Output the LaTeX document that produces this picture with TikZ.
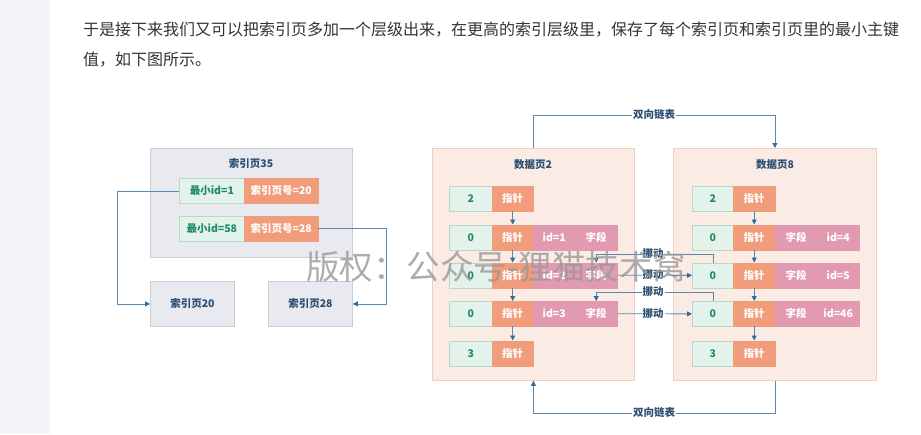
\documentclass[tikz,border=0pt]{standalone}
\usepackage{fontspec}
\setmainfont{Noto Sans CJK SC}
\usetikzlibrary{arrows.meta}
\definecolor{stripgray}{HTML}{F4F5F9}
\definecolor{bodytext}{HTML}{333333}
\definecolor{idxfill}{HTML}{E8EAEF}
\definecolor{idxline}{HTML}{C8CDD8}
\definecolor{titleblue}{HTML}{2C4E70}
\definecolor{gfill}{HTML}{E3F2EA}
\definecolor{gline}{HTML}{B7DAC6}
\definecolor{gtext}{HTML}{1E8C66}
\definecolor{ofill}{HTML}{F19C7B}
\definecolor{pfill}{HTML}{E19AAF}
\definecolor{pagefill}{HTML}{FBEBE5}
\definecolor{pageline}{HTML}{F5CDBD}
\definecolor{connline}{HTML}{5A87AD}
\definecolor{tipblue}{HTML}{2F6EA3}
\tikzset{
  lbl/.style={font=\fontsize{10.5}{10.5}\selectfont\bfseries},
  cellbase/.style={anchor=north west, minimum height=25pt, inner sep=0pt, lbl},
  gcell/.style={cellbase, fill=gfill, draw=gline, line width=0.8pt, text=gtext},
  ocell/.style={cellbase, fill=ofill, draw=ofill, line width=0.4pt, text=white},
  pcell/.style={cellbase, fill=pfill, draw=pfill, line width=0.4pt, text=white},
  idxbox/.style={anchor=north west, fill=idxfill, draw=idxline, line width=0.8pt, inner sep=0pt},
  pagebox/.style={anchor=north west, fill=pagefill, draw=pageline, line width=0.8pt, inner sep=0pt},
  ttl/.style={lbl, text=titleblue},
  conn/.style={draw=connline, line width=0.8pt, -{Triangle[length=5pt,width=5pt,color=tipblue]}},
  mvlab/.style={lbl, text=titleblue, fill=white, inner sep=1pt},
}
\begin{document}
\begin{tikzpicture}[x=1pt,y=-1pt]
\useasboundingbox (0,0) rectangle (921,434);
\fill[white] (0,0) rectangle (921,434);
\fill[stripgray] (0,0) rectangle (50,434);

% body text
\node[anchor=west, inner sep=0pt, text=bodytext, font=\fontsize{16}{16}\selectfont] (line1) at (83,30) {于是接下来我们又可以把索引页多加一个层级出来，在更高的索引层级里，保存了每个索引页和索引页里的最小主键};
\node[anchor=west, inner sep=0pt, text=bodytext, font=\fontsize{16}{16}\selectfont] (line2) at (83,60) {值，如下图所示。};

% index pages
\node[idxbox, minimum width=202pt, minimum height=109pt] (ip35) at (150,148) {};
\node[ttl] (ip35t) at (251,164) {索引页35};
\node[gcell, minimum width=65pt] (r1g) at (179,178) {最小id=1};
\node[ocell, minimum width=74pt] (r1o) at (244,178) {索引页号=20};
\node[gcell, minimum width=65pt] (r2g) at (179,215.5) {最小id=58};
\node[ocell, minimum width=74pt] (r2o) at (244,215.5) {索引页号=28};
\node[idxbox, minimum width=84pt, minimum height=45pt, lbl, text=titleblue] (ip20) at (150,281) {索引页20};
\node[idxbox, minimum width=84pt, minimum height=45pt, lbl, text=titleblue] (ip28) at (268,281) {索引页28};
\draw[conn] (r1g.west) -- ++(-62,0) |- (ip20.west);
\draw[conn] (r2o.east) -- ++(68,0) |- (ip28.east);

% data page 2
\node[pagebox, minimum width=202pt, minimum height=232pt] (p2) at (432,148) {};
\node[ttl] (p2t) at (533,165) {数据页2};
\node[gcell, minimum width=43pt] (a1g) at (449,186) {2};
\node[ocell, minimum width=41pt] (a1o) at (492,186) {指针};
\node[gcell, minimum width=43pt] (a2g) at (449,224.5) {0};
\node[ocell, minimum width=41pt] (a2o) at (492,224.5) {指针};
\node[pcell, minimum width=42pt] (a2a) at (533,224.5) {id=1};
\node[pcell, minimum width=42pt] (a2b) at (575,224.5) {字段};
\node[gcell, minimum width=43pt] (a3g) at (449,262.5) {0};
\node[ocell, minimum width=41pt] (a3o) at (492,262.5) {指针};
\node[pcell, minimum width=42pt] (a3a) at (533,262.5) {id=2};
\node[pcell, minimum width=42pt] (a3b) at (575,262.5) {字段};
\node[gcell, minimum width=43pt] (a4g) at (449,301) {0};
\node[ocell, minimum width=41pt] (a4o) at (492,301) {指针};
\node[pcell, minimum width=42pt] (a4a) at (533,301) {id=3};
\node[pcell, minimum width=42pt] (a4b) at (575,301) {字段};
\node[gcell, minimum width=43pt] (a5g) at (449,340.5) {3};
\node[ocell, minimum width=41pt] (a5o) at (492,340.5) {指针};
\draw[conn] (a1o.south) -- (a2o.north);
\draw[conn] (a2o.south) -- (a3o.north);
\draw[conn] (a3o.south) -- (a4o.north);
\draw[conn] (a4o.south) -- (a5o.north);

% data page 8
\node[pagebox, minimum width=203pt, minimum height=232pt] (p8) at (673,148) {};
\node[ttl] (p8t) at (775,165) {数据页8};
\node[gcell, minimum width=41pt] (b1g) at (692,186) {2};
\node[ocell, minimum width=42pt] (b1o) at (733,186) {指针};
\node[gcell, minimum width=41pt] (b2g) at (692,224.5) {0};
\node[ocell, minimum width=42pt] (b2o) at (733,224.5) {指针};
\node[pcell, minimum width=42pt] (b2a) at (775,224.5) {字段};
\node[pcell, minimum width=42pt] (b2b) at (817,224.5) {id=4};
\node[gcell, minimum width=41pt] (b3g) at (692,262.5) {0};
\node[ocell, minimum width=42pt] (b3o) at (733,262.5) {指针};
\node[pcell, minimum width=42pt] (b3a) at (775,262.5) {字段};
\node[pcell, minimum width=42pt] (b3b) at (817,262.5) {id=5};
\node[gcell, minimum width=41pt] (b4g) at (692,301) {0};
\node[ocell, minimum width=42pt] (b4o) at (733,301) {指针};
\node[pcell, minimum width=42pt] (b4a) at (775,301) {字段};
\node[pcell, minimum width=42pt] (b4b) at (817,301) {id=46};
\node[gcell, minimum width=41pt] (b5g) at (692,340.5) {3};
\node[ocell, minimum width=42pt] (b5o) at (733,340.5) {指针};
\draw[conn] (b1o.south) -- (b2o.north);
\draw[conn] (b2o.south) -- (b3o.north);
\draw[conn] (b3o.south) -- (b4o.north);
\draw[conn] (b4o.south) -- (b5o.north);

% doubly linked list
\draw[conn] (p2.north) -- ++(0,-33) -| (p8.north);
\node[mvlab] (dl1) at (654,115) {双向链表};
\draw[conn] (p8.south) -- ++(0,33) -| (p2.south);
\node[mvlab] (dl2) at (654,413) {双向链表};

% moves
\draw[conn] (b3g.north) -- ++(0,-8.5) -| (a3b.north);
\draw[conn] (a3b.east) -- (b3g.west);
\draw[conn] (b4g.north) -- ++(0,-9) -| (a4b.north);
\draw[conn] (a4b.east) -- (b4g.west);
\node[mvlab] (mv1) at (653,254) {挪动};
\node[mvlab] (mv2) at (653,275) {挪动};
\node[mvlab] (mv3) at (653,292) {挪动};
\node[mvlab] (mv4) at (653,313.5) {挪动};

% watermark
\node[anchor=west, inner sep=0pt, text=black!40, opacity=0.8, font=\fontsize{33.5}{33.5}\selectfont] (wm) at (306,267) {版权：公众号-狸猫技术窝};
\end{tikzpicture}
\end{document}
